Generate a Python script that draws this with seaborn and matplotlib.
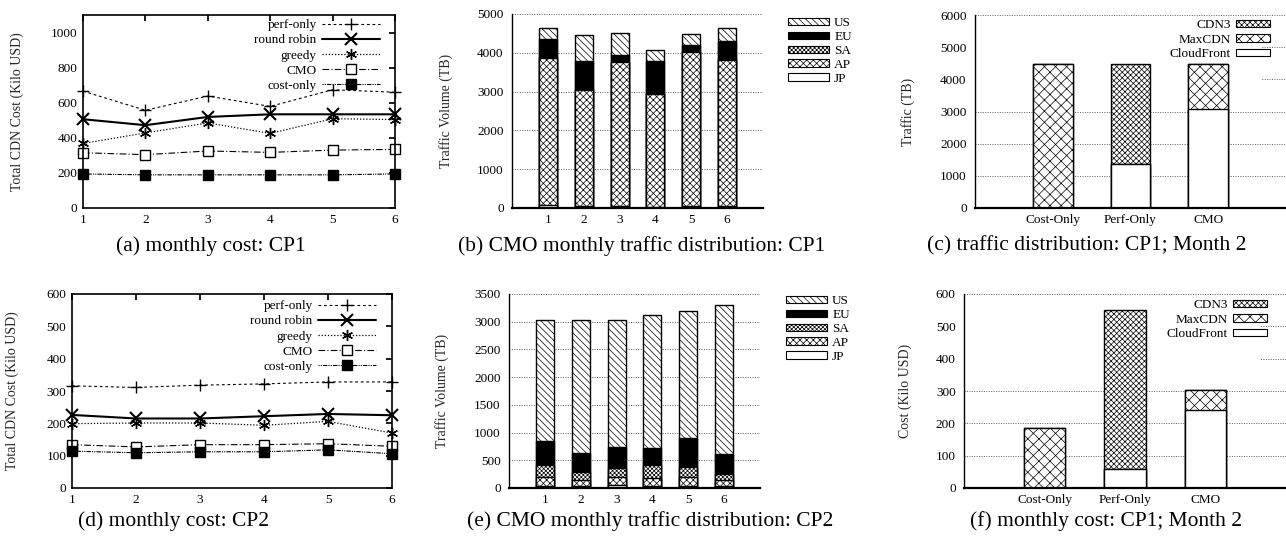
import numpy as np
import matplotlib
matplotlib.use("Agg")
import matplotlib.pyplot as plt
from matplotlib.patches import Patch, Rectangle
import seaborn as sns

# ---- data ----
months = [1, 2, 3, 4, 5, 6]

# (a) monthly cost CP1 (kilo USD)
cp1_perf_only = [666, 557, 638, 579, 674, 660]
cp1_round_robin = [506, 472, 519, 534, 534, 534]
cp1_greedy = [368, 428, 485, 425, 509, 504]
cp1_cmo = [315, 304, 325, 317, 330, 334]
cp1_cost_only = [194, 189, 189, 189, 189, 194]

# (d) monthly cost CP2 (kilo USD)
cp2_perf_only = [316, 311, 318, 322, 328, 328]
cp2_round_robin = [226, 215, 215, 222, 229, 225]
cp2_greedy = [199, 201, 201, 194, 206, 170]
cp2_cmo = [134, 127, 134, 134, 137, 129]
cp2_cost_only = [114, 109, 112, 112, 118, 106]

# (b) CMO traffic per region, CP1 (TB)
cp1_jp = [80, 40, 40, 30, 60, 40]
cp1_ap = [3785, 3002, 3714, 2909, 3951, 3774]
cp1_sa = [20, 20, 20, 20, 20, 20]
cp1_eu = [463, 738, 171, 841, 171, 471]
cp1_us = [300, 660, 558, 274, 275, 326]

# (e) CMO traffic per region, CP2 (TB)
cp2_jp = [30, 30, 60, 30, 40, 30]
cp2_ap = [163, 114, 144, 145, 153, 114]
cp2_sa = [222, 151, 151, 240, 192, 109]
cp2_eu = [438, 331, 391, 301, 511, 360]
cp2_us = [2184, 2399, 2291, 2411, 2291, 2684]

regions = ["JP", "AP", "SA", "EU", "US"]

# (c) / (f) month 2, per strategy
strategies = ["Cost-Only", "Perf-Only", "CMO"]
cdn_names = ["CloudFront", "MaxCDN", "CDN3"]
traffic_cloudfront = [0, 1376, 3083]
traffic_maxcdn = [4468, 0, 1385]
traffic_cdn3 = [0, 3092, 0]
cost_cloudfront = [0, 60, 242]
cost_maxcdn = [185, 0, 60]
cost_cdn3 = [0, 491, 0]

# ---- style ----
sns.set_theme(style="white")
plt.rcParams["font.family"] = ["Liberation Serif", "DejaVu Serif"]
plt.rcParams["hatch.linewidth"] = 0.5
plt.rcParams["axes.edgecolor"] = "black"
plt.rcParams["text.color"] = "black"
plt.rcParams["xtick.color"] = "black"
plt.rcParams["ytick.color"] = "black"

W, H = 1286, 537
TICK_FS = 9.5
LABEL_FS = 10
LEG_FS = 9.5
CAPTION_FS = 15.5
fig = plt.figure(figsize=(W / 100, H / 100), dpi=100)


def add_axes(x0, y0, x1, y1):
    return fig.add_axes([x0 / W, 1 - y1 / H, (x1 - x0) / W, (y1 - y0) / H])


def ylabel_at(ax, text, xpix, x0, x1):
    ax.set_ylabel(text, fontsize=LABEL_FS)
    ax.yaxis.set_label_coords((xpix + 6 - x0) / (x1 - x0), 0.5)


line_styles = [
    ("perf-only", dict(linestyle=(0, (2.5, 2.5)), lw=0.8, marker="+", ms=9, mew=1.0, mfc="black")),
    ("round robin", dict(linestyle="-", lw=1.5, marker="x", ms=8, mew=1.5, mfc="black")),
    ("greedy", dict(linestyle=(0, (1, 1.5)), lw=0.9, marker=(6, 2, 0), ms=8, mew=1.0, mfc="black")),
    ("CMO", dict(linestyle=(0, (6, 2, 1, 2)), lw=0.8, marker="s", ms=7, mew=1.0, mfc="white")),
    ("cost-only", dict(linestyle=(0, (1, 1, 1, 1, 4, 1)), lw=0.8, marker="s", ms=7, mew=1.0, mfc="black")),
]


def cost_panel(ax, series, ymax, ystep, leg_corner):
    for (name, kw), vals in zip(line_styles, series):
        sns.lineplot(x=months, y=vals, ax=ax, color="black", mec="black",
                     label=name, clip_on=False, **kw)
    ax.set_xlim(1, 6)
    ax.set_ylim(0, ymax)
    ax.set_xticks(months)
    ax.set_yticks(np.arange(0, ymax + 1, ystep))
    ax.tick_params(direction="in", top=True, right=True, length=4, labelsize=TICK_FS, pad=4)
    for s in ax.spines.values():
        s.set_linewidth(1.2)
    ax.legend(loc="upper right", bbox_to_anchor=(leg_corner[0] / W, 1 - leg_corner[1] / H),
              bbox_transform=fig.transFigure, markerfirst=False, frameon=False,
              fontsize=LEG_FS, handlelength=4.4, labelspacing=0.22, handletextpad=0.4,
              borderpad=0, borderaxespad=0)


def stacked_bars(ax, cats, layers, hatches, colors, width=0.5):
    cum = np.cumsum(np.array(layers, dtype=float), axis=0)
    for i in reversed(range(len(layers))):
        sns.barplot(x=cats, y=cum[i], order=cats, color=colors[i], hatch=hatches[i],
                    edgecolor="black", linewidth=1.0, width=width, saturation=1,
                    ax=ax, zorder=2)


def bar_axes_style(ax, ymax, ystep):
    ax.set_ylim(0, ymax)
    ax.set_yticks(np.arange(0, ymax + 1, ystep))
    ax.set_axisbelow(True)
    ax.yaxis.grid(True, linestyle=(0, (1, 1.5)), color="0.35", lw=0.7)
    ax.xaxis.grid(False)
    sns.despine(ax=ax, top=True, right=True)
    ax.spines["bottom"].set_linewidth(1.6)
    ax.spines["left"].set_linewidth(1.0)
    ax.tick_params(axis="y", length=0, labelsize=TICK_FS, pad=6)
    ax.tick_params(axis="x", length=0, labelsize=TICK_FS, pad=4)
    ax.set_xlabel("")


region_hatches = ["", "xxxxx", "xxxxxxxx", "", "\\\\\\\\\\"]
region_colors = ["white", "white", "white", "black", "white"]
cdn_hatches = ["", "xxx", "xxxxxx"]
cdn_colors = ["white", "white", "white"]


def region_legend(corner):
    handles = [Patch(facecolor=c, edgecolor="black", hatch=h, lw=0.8)
               for c, h in zip(region_colors, region_hatches)]
    labels = list(regions)
    fig.legend(handles[::-1], labels[::-1], loc="upper left",
               bbox_to_anchor=(corner[0] / W, 1 - corner[1] / H), frameon=False,
               fontsize=LEG_FS, handlelength=3.1, handleheight=0.5, labelspacing=0.15,
               handletextpad=0.4, borderpad=0, borderaxespad=0)


def cdn_legend(ax, corner):
    handles = [Patch(facecolor=c, edgecolor="black", hatch=h, lw=0.8)
               for c, h in zip(cdn_colors, cdn_hatches)]
    ax.legend(handles[::-1], cdn_names[::-1], loc="upper right",
              bbox_to_anchor=(corner[0] / W, 1 - corner[1] / H),
              bbox_transform=fig.transFigure, markerfirst=False, frameon=False,
              fontsize=LEG_FS, handlelength=2.6, handleheight=0.5, labelspacing=0.2,
              handletextpad=0.4, borderpad=0, borderaxespad=0)


# (a)
ax_a = add_axes(83, 15, 395, 208)
cost_panel(ax_a, [cp1_perf_only, cp1_round_robin, cp1_greedy, cp1_cmo, cp1_cost_only],
           1100, 200, (380, 19))
ylabel_at(ax_a, "Total CDN Cost (Kilo USD)", 18, 83, 395)

# (d)
ax_d = add_axes(72, 294, 392, 488)
cost_panel(ax_d, [cp2_perf_only, cp2_round_robin, cp2_greedy, cp2_cmo, cp2_cost_only],
           600, 100, (376, 300))
ylabel_at(ax_d, "Total CDN Cost (Kilo USD)", 13, 72, 392)

# (b)
ax_b = add_axes(512, 14, 763, 208)
stacked_bars(ax_b, months, [cp1_jp, cp1_ap, cp1_sa, cp1_eu, cp1_us], region_hatches, region_colors)
bar_axes_style(ax_b, 5000, 1000)
ax_b.set_xlim(-1, 6)
ylabel_at(ax_b, "Traffic Volume (TB)", 447, 512, 763)
region_legend((788, 17))

# (e)
ax_e = add_axes(509, 294, 760, 488)
stacked_bars(ax_e, months, [cp2_jp, cp2_ap, cp2_sa, cp2_eu, cp2_us], region_hatches, region_colors)
bar_axes_style(ax_e, 3500, 500)
ax_e.set_xlim(-1, 6)
ylabel_at(ax_e, "Traffic Volume (TB)", 443, 509, 760)
region_legend((786, 295))

# (c)
ax_c = add_axes(975, 15, 1286, 208)
stacked_bars(ax_c, strategies, [traffic_cloudfront, traffic_maxcdn, traffic_cdn3],
             cdn_hatches, cdn_colors, width=0.51)
bar_axes_style(ax_c, 6000, 1000)
ax_c.set_xlim(-1, 3)
ax_c.add_patch(Rectangle((0, 3500), 0.92, 2000, transform=ax_c.get_yaxis_transform(),
                         facecolor="white", edgecolor="none", zorder=0.9))
ylabel_at(ax_c, "Traffic (TB)", 909, 975, 1286)
cdn_legend(ax_c, (1270, 19))

# (f)
ax_f = add_axes(964, 294, 1286, 488)
stacked_bars(ax_f, strategies, [cost_cloudfront, cost_maxcdn, cost_cdn3],
             cdn_hatches, cdn_colors, width=0.51)
bar_axes_style(ax_f, 600, 100)
ax_f.set_xlim(-1, 3)
ax_f.add_patch(Rectangle((0, 350), 0.92, 200, transform=ax_f.get_yaxis_transform(),
                         facecolor="white", edgecolor="none", zorder=0.9))
ylabel_at(ax_f, "Cost (Kilo USD)", 906, 964, 1286)
cdn_legend(ax_f, (1267, 299))

# captions
captions = [
    ("(a) monthly cost: CP1", 211, 246),
    ("(b) CMO monthly traffic distribution: CP1", 642, 246),
    ("(c) traffic distribution: CP1; Month 2", 1087, 246),
    ("(d) monthly cost: CP2", 174, 521),
    ("(e) CMO monthly traffic distribution: CP2", 650, 521),
    ("(f) monthly cost: CP1; Month 2", 1106, 521),
]
for text, cx, cy in captions:
    fig.text(cx / W, 1 - cy / H, text, ha="center", va="center", fontsize=CAPTION_FS)

fig.savefig("out.png", dpi=100)
